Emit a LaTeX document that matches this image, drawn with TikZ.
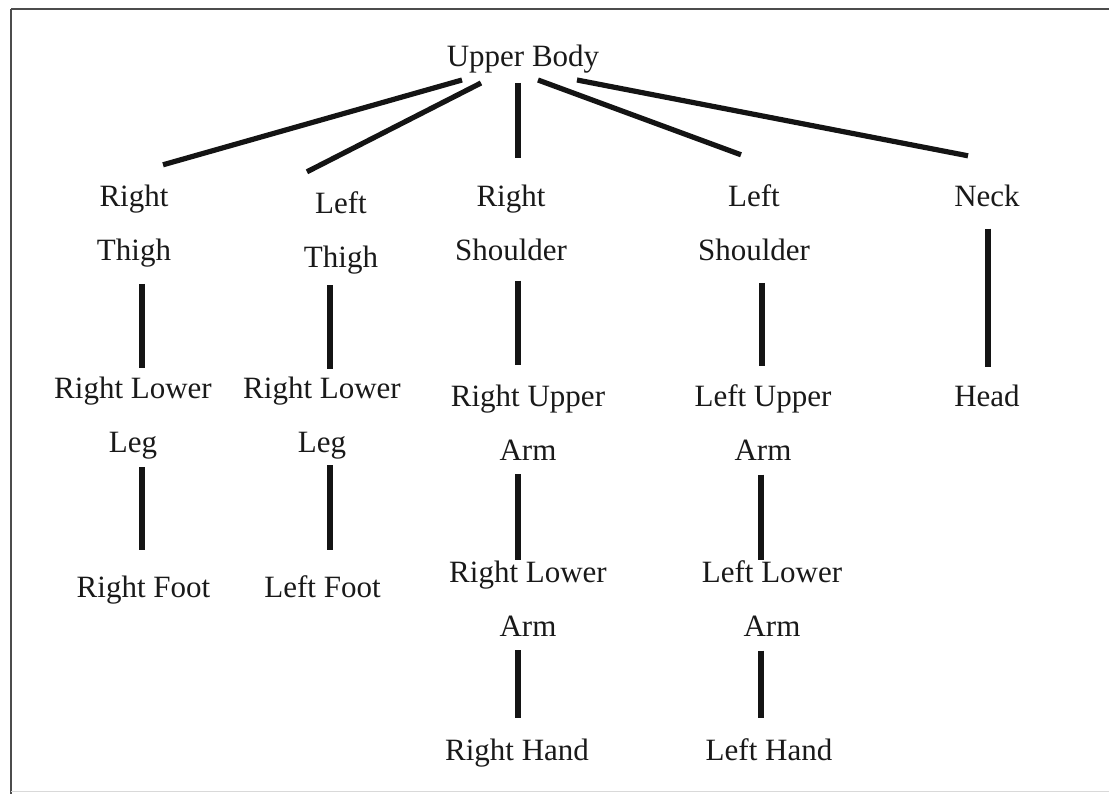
\documentclass[tikz,border=0pt]{standalone}
\usepackage{fontspec}
\setmainfont{Liberation Serif}
\begin{document}
\begin{tikzpicture}[x=1pt,y=-1pt,
  part/.style={anchor=north,inner sep=0pt,outer sep=0pt,align=center,
    font=\fontsize{31}{54}\selectfont,text=black!90},
  conn/.style={line width=5.2pt,draw=black!92},
  frame/.style={line width=1.6pt,draw=black!70}]
\useasboundingbox (0,0) rectangle (1109,794);
% frame
\draw[frame] (11,9) -- (1109,9);
\draw[frame] (11,9) -- (11,794);
\draw[line width=1pt,draw=black!15] (11,791) -- (1109,791);
% nodes (north = first baseline - 21.2)
\node[part] (UB)  at (523,44.8)  {Upper Body};
\node[part] (RT)  at (134,184.8) {Right\\Thigh};
\node[part] (LT)  at (341,191.8) {Left\\Thigh};
\node[part] (RS)  at (511,184.8) {Right\\Shoulder};
\node[part] (LS)  at (754,184.8) {Left\\Shoulder};
\node[part] (NK)  at (987,184.8) {Neck};
\node[part] (RLL) at (133,376.8) {Right Lower\\Leg};
\node[part] (LLL) at (322,376.8) {Right Lower\\Leg};
\node[part] (RUA) at (528,384.8) {Right Upper\\Arm};
\node[part] (LUA) at (763,384.8) {Left Upper\\Arm};
\node[part] (HD)  at (987,384.8) {Head};
\node[part] (RF)  at (143.5,575.8) {Right Foot};
\node[part] (LF)  at (322.5,575.8) {Left Foot};
\node[part] (RLA) at (528,560.8) {Right Lower\\Arm};
\node[part] (LLA) at (772,560.8) {Left Lower\\Arm};
\node[part] (RH)  at (517,738.8) {Right Hand};
\node[part] (LH)  at (769,738.8) {Left Hand};
% connectors from Upper Body
\draw[conn] ([xshift=-61pt,yshift=-7pt]UB.south) -- ([xshift=-8pt,yshift=20pt]RT.north east);
\draw[conn] ([xshift=-42pt,yshift=-10pt]UB.south) -- ([xshift=3pt,yshift=20pt]LT.north west);
\draw[conn] ([xshift=-5pt,yshift=-10pt]UB.south) -- ([xshift=7pt,yshift=27pt]RS.north);
\draw[conn] ([xshift=15pt,yshift=-7pt]UB.south) -- ([xshift=-13pt,yshift=30pt]LS.north);
\draw[conn] ([xshift=54pt,yshift=-7pt]UB.south) -- ([xshift=-19pt,yshift=29pt]NK.north);
% legs
\draw[conn] ([xshift=8pt,yshift=-17pt]RT.south) -- ([xshift=9pt,yshift=9pt]RLL.north);
\draw[conn] ([xshift=9pt,yshift=-8pt]RLL.south) -- ([xshift=-1.5pt,yshift=26pt]RF.north);
\draw[conn] ([xshift=-11pt,yshift=-11pt]LT.south) -- ([xshift=8pt,yshift=8pt]LLL.north);
\draw[conn] ([xshift=8pt,yshift=-6pt]LLL.south) -- ([xshift=7.5pt,yshift=26pt]LF.north);
% right arm
\draw[conn] ([xshift=7pt,yshift=-20pt]RS.south) -- ([xshift=-10pt,yshift=20pt]RUA.north);
\draw[conn] ([xshift=-10pt,yshift=-14pt]RUA.south) -- ([xshift=-10pt,yshift=1pt]RLA.north);
\draw[conn] ([xshift=-10pt,yshift=-14pt]RLA.south) -- ([xshift=1pt,yshift=21pt]RH.north);
% left arm
\draw[conn] ([xshift=8pt,yshift=-22pt]LS.south) -- ([xshift=-1pt,yshift=19pt]LUA.north);
\draw[conn] ([xshift=-2pt,yshift=-14pt]LUA.south) -- ([xshift=-11pt,yshift=1pt]LLA.north);
\draw[conn] ([xshift=-11pt,yshift=-14pt]LLA.south) -- ([xshift=-8pt,yshift=21pt]LH.north);
% neck
\draw[conn] ([xshift=1pt,yshift=-22pt]NK.south) -- ([xshift=1pt,yshift=18pt]HD.north);
\end{tikzpicture}
\end{document}
